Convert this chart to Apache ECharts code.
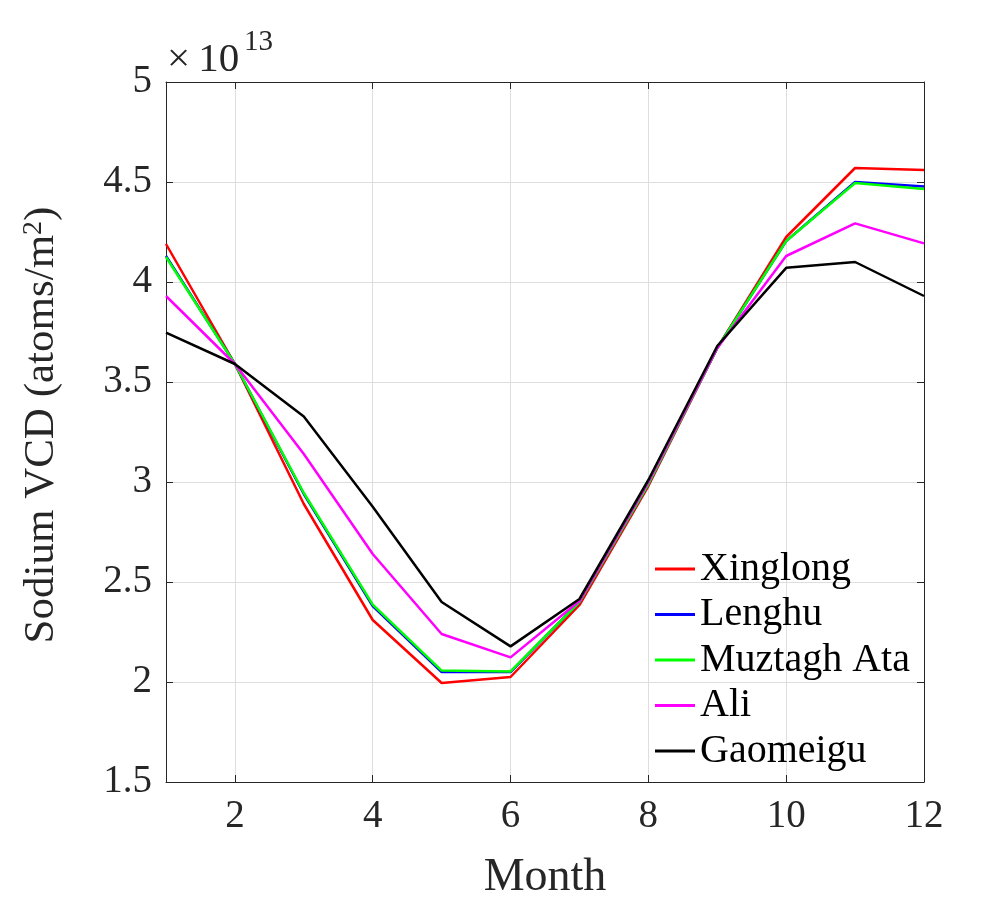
<!DOCTYPE html>
<html>
<head>
<meta charset="utf-8">
<script src="https://cdn.jsdelivr.net/npm/echarts@6/dist/echarts.min.js"></script>
<style>
html, body { margin: 0; padding: 0; background: #fff; }
#container { width: 1000px; height: 900px; }
</style>
</head>
<body>
<div id="container"></div>
<script>
// values in units of 1e13 atoms/m^2
var months = [1, 2, 3, 4, 5, 6, 7, 8, 9, 10, 11, 12];
var xinglong = [4.19, 3.59, 2.89, 2.31, 1.995, 2.025, 2.385, 2.98, 3.67, 4.225, 4.57, 4.56];
var lenghu = [4.13, 3.59, 2.94, 2.38, 2.05, 2.05, 2.40, 2.99, 3.67, 4.205, 4.50, 4.477];
var muztagh = [4.125, 3.59, 2.945, 2.387, 2.057, 2.053, 2.40, 2.99, 3.67, 4.205, 4.495, 4.465];
var ali = [3.93, 3.59, 3.14, 2.64, 2.24, 2.123, 2.405, 3.0, 3.67, 4.13, 4.293, 4.193];
var gaomeigu = [3.747, 3.59, 3.327, 2.876, 2.40, 2.178, 2.415, 3.01, 3.68, 4.071, 4.10, 3.93];
var xTicks = [2, 4, 6, 8, 10, 12];

var names = ['Xinglong', 'Lenghu', 'Muztagh Ata', 'Ali', 'Gaomeigu'];
var colors = ['#ff0000', '#0000ff', '#00ff00', '#ff00ff', '#000000'];
var allData = [xinglong, lenghu, muztagh, ali, gaomeigu];

var font = 'Liberation Serif';
var textColor = '#262626';

function pairs(ys) {
	var out = [];
	for (var i = 0; i < months.length; i++) {
		out.push([months[i], ys[i]]);
	}
	return out;
}

var series = [];
for (var i = 0; i < names.length; i++) {
	series.push({
		name : names[i],
		type : 'line',
		symbol : 'none',
		data : pairs(allData[i]),
		lineStyle : { width : 2.5, color : colors[i] },
		itemStyle : { color : colors[i] },
		z : 2 + i
	});
}

var myChart = echarts.init(document.getElementById('container'));
myChart.setOption({
	animation : false,
	backgroundColor : '#ffffff',
	color : colors,
	grid : {
		left : 166,
		right : 76,
		top : 82,
		bottom : 118,
		outerBoundsMode : 'none'
	},
	legend : {
		orient : 'vertical',
		left : 650,
		top : 543,
		icon : 'rect',
		itemWidth : 40,
		itemHeight : 3,
		itemGap : 3.5,
		data : names,
		textStyle : {
			fontFamily : font,
			fontSize : 40,
			lineHeight : 42,
			color : '#000'
		}
	},
	graphic : [ {
		type : 'text',
		left : 167,
		top : 40,
		style : { text : '×\u200910', fontFamily : font, fontSize : 41, fill : textColor }
	}, {
		type : 'text',
		left : 244,
		top : 28,
		style : { text : '13', fontFamily : font, fontSize : 29, fill : textColor }
	} ],
	xAxis : [ {
		type : 'value',
		min : 1,
		max : 12,
		position : 'bottom',
		name : 'Month',
		nameLocation : 'middle',
		nameGap : 73,
		nameTextStyle : { fontFamily : font, fontSize : 46, color : textColor },
		axisLine : { show : true, onZero : false, lineStyle : { color : '#262626', width : 1 } },
		axisTick : { show : true, inside : true, length : 7, customValues : xTicks, lineStyle : { color : '#262626' } },
		axisLabel : { customValues : xTicks, fontFamily : font, fontSize : 39, color : textColor, margin : 15 },
		splitLine : { show : true, customValues : xTicks, lineStyle : { color : '#dedede', width : 1 } }
	}, {
		type : 'value',
		min : 1,
		max : 12,
		position : 'top',
		axisLine : { show : true, onZero : false, lineStyle : { color : '#262626', width : 1 } },
		axisTick : { show : true, inside : true, length : 7, customValues : xTicks, lineStyle : { color : '#262626' } },
		axisLabel : { show : false },
		splitLine : { show : false }
	} ],
	yAxis : [ {
		type : 'value',
		min : 1.5,
		max : 5,
		interval : 0.5,
		position : 'left',
		name : '{a|Sodium VCD (atoms/m}{s|2}{a|)}',
		nameLocation : 'middle',
		nameGap : 103,
		nameRotate : 90,
		nameTextStyle : {
			fontFamily : font,
			fontSize : 43,
			color : textColor,
			padding : [0, 0, 0, 14],
			rich : {
				a : { fontFamily : font, fontSize : 43, color : textColor },
				s : { fontFamily : font, fontSize : 28, color : textColor, verticalAlign : 'top', padding : [0, 0, 14, 0] }
			}
		},
		axisLine : { show : true, onZero : false, lineStyle : { color : '#262626', width : 1 } },
		axisTick : { show : true, inside : true, length : 7, lineStyle : { color : '#262626' } },
		axisLabel : { fontFamily : font, fontSize : 39, color : textColor, margin : 14 },
		splitLine : { show : true, lineStyle : { color : '#dedede', width : 1 } }
	}, {
		type : 'value',
		min : 1.5,
		max : 5,
		interval : 0.5,
		position : 'right',
		axisLine : { show : true, onZero : false, lineStyle : { color : '#262626', width : 1 } },
		axisTick : { show : true, inside : true, length : 7, lineStyle : { color : '#262626' } },
		axisLabel : { show : false },
		splitLine : { show : false }
	} ],
	series : series
});
</script>
</body>
</html>
